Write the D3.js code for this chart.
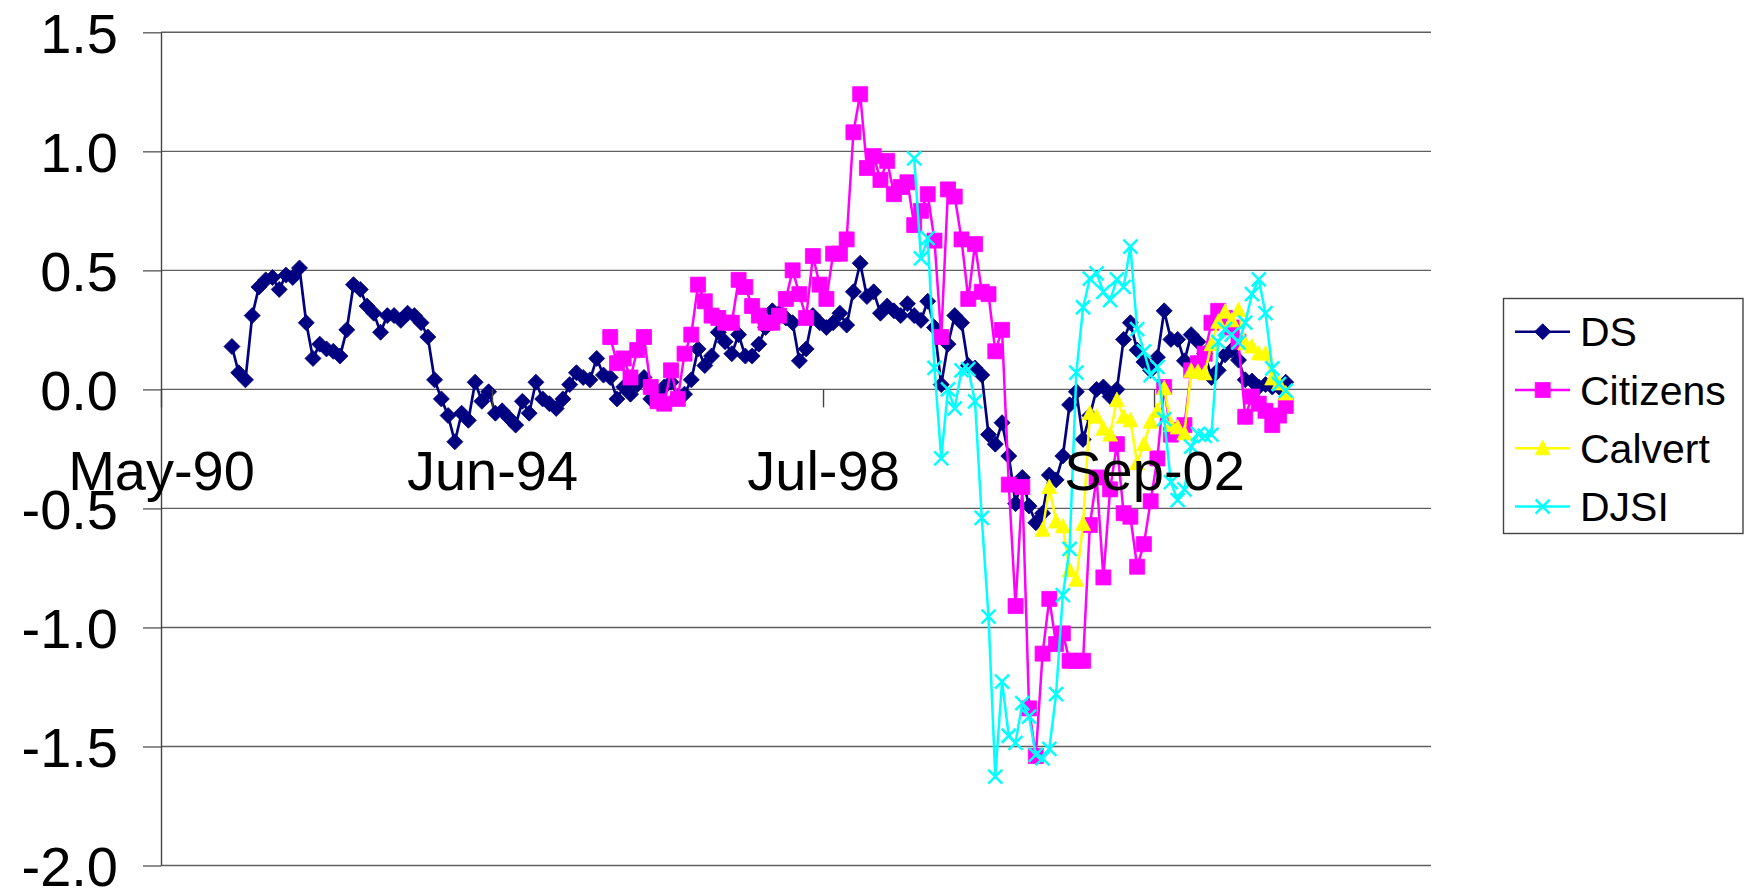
<!DOCTYPE html>
<html>
<head>
<meta charset="utf-8">
<script src="https://cdn.jsdelivr.net/npm/d3@7"></script>
<style>
  html, body { margin: 0; padding: 0; background: #fff; }
  svg { display: block; }
  text { font-family: "Liberation Sans", Arial, sans-serif; fill: #000; }
</style>
</head>
<body>
<svg id="chart" width="1744" height="892"></svg>
<script>
// Monthly categories, first category is May-90
const categoryCount = 188;
const tickIndex = [0, 49, 98, 147];
const tickLabels = ["May-90", "Jun-94", "Jul-98", "Sep-02"];
const yTicks = [-2.0, -1.5, -1.0, -0.5, 0.0, 0.5, 1.0, 1.5];

const seriesNames = ["DS", "Citizens", "Calvert", "DJSI"];
const seriesStart = [10, 66, 130, 111];   // category index of the first value

const dsValues = [
  0.18, 0.07, 0.04, 0.31, 0.43, 0.46, 0.47, 0.42, 0.48, 0.47,
  0.51, 0.28, 0.13, 0.19, 0.17, 0.16, 0.14, 0.25, 0.44, 0.42,
  0.35, 0.32, 0.24, 0.31, 0.31, 0.29, 0.32, 0.31, 0.28, 0.22,
  0.04, -0.04, -0.11, -0.22, -0.10, -0.13, 0.03, -0.05, -0.01, -0.10,
  -0.09, -0.12, -0.15, -0.05, -0.10, 0.03, -0.04, -0.06, -0.08, -0.04,
  0.02, 0.07, 0.05, 0.04, 0.13, 0.06, 0.05, -0.04, 0.01, -0.02,
  0.02, 0.05, -0.04, -0.01, 0.01, 0.03, -0.03, -0.02, 0.04, 0.17,
  0.10, 0.14, 0.24, 0.20, 0.15, 0.23, 0.14, 0.14, 0.19, 0.26,
  0.33, 0.32, 0.30, 0.28, 0.12, 0.17, 0.31, 0.28, 0.26, 0.28,
  0.32, 0.27, 0.41, 0.53, 0.39, 0.41, 0.32, 0.35, 0.33, 0.31,
  0.36, 0.31, 0.29, 0.37, 0.26, 0.02, 0.19, 0.31, 0.28, 0.10,
  0.09, 0.06, -0.19, -0.23, -0.14, -0.28, -0.48, -0.37, -0.49, -0.56,
  -0.52, -0.36, -0.38, -0.28, -0.065, -0.01, -0.21, -0.11, 0.00, 0.01,
  -0.03, 0.00, 0.21, 0.28, 0.165, 0.115, 0.08, 0.135, 0.33, 0.21,
  0.21, 0.12, 0.23, 0.20, 0.15, 0.05, 0.08, 0.145, 0.165, 0.123,
  0.04, 0.035, 0.01, 0.02, 0.01, 0.01, 0.03
];

const citizensValues = [
  0.22, 0.11, 0.13, 0.05,
  0.165, 0.22, 0.01, -0.05, -0.06, 0.08, -0.04, 0.15, 0.23, 0.44,
  0.37, 0.31, 0.30, 0.28, 0.28, 0.46, 0.43, 0.35, 0.31, 0.28,
  0.28, 0.31, 0.38, 0.50, 0.40, 0.30, 0.56, 0.44, 0.38, 0.57,
  0.57, 0.63, 1.08, 1.24, 0.93, 0.98, 0.88, 0.96, 0.82, 0.85,
  0.87, 0.69, 0.75, 0.82, 0.625, 0.22, 0.84, 0.81, 0.63, 0.38,
  0.61, 0.41, 0.40, 0.16, 0.25, -0.40, -0.91, -0.41, -1.34, -1.54,
  -1.11, -0.88, -1.07, -1.025, -1.14, -1.14, -1.14, -0.57, -0.37, -0.79,
  -0.42, -0.23, -0.52, -0.535, -0.745, -0.65, -0.47, -0.29, 0.01, -0.19,
  -0.17, -0.15, 0.08, 0.11, 0.15, 0.28, 0.33, 0.30, 0.26, 0.20,
  -0.115, -0.03, -0.06, -0.09, -0.15, -0.11, -0.07
];

const calvertValues = [
  -0.59, -0.41, -0.555, -0.575, -0.76, -0.80, -0.565, -0.10, -0.115, -0.165,
  -0.19, -0.045, -0.115, -0.13, -0.31, -0.23, -0.136, -0.09, 0.005, -0.15,
  -0.16, -0.185, 0.078, 0.074, 0.067, 0.19, 0.284, 0.326, 0.29, 0.333,
  0.193, 0.18, 0.151, 0.151, 0.046, 0.025, -0.017
];

const djsiValues = [
  0.97, 0.55, 0.635, 0.09, -0.29, 0.00, -0.08, 0.08, 0.085,
  -0.05, -0.54, -0.955, -1.627, -1.228, -1.455, -1.485, -1.318, -1.375, -1.535,
  -1.55, -1.51, -1.28, -0.864, -0.67, 0.07, 0.345, 0.465, 0.487, 0.41,
  0.375, 0.462, 0.431, 0.60, 0.253, 0.16, 0.06, 0.095, -0.125, -0.39,
  -0.465, -0.42, -0.24, -0.187, -0.195, -0.19, 0.20, 0.253, 0.23, 0.197,
  0.28, 0.40, 0.462, 0.32, 0.088, 0.022, -0.005
];

const seriesValues = [dsValues, citizensValues, calvertValues, djsiValues];
const seriesColors = ["#000080", "#FF00FF", "#FFFF00", "#00FFFF"];
const seriesMarkers = ["diamond", "square", "triangle", "cross"];

const svg = d3.select("#chart");
svg.append("rect").attr("width", 1744).attr("height", 892).attr("fill", "#fff");

const x = d3.scaleLinear().domain([0, categoryCount]).range([161, 1431]);
const y = d3.scaleLinear().domain([-2, 1.5]).range([865.5, 32.3]);

// horizontal gridlines
svg.append("g")
  .selectAll("line")
  .data(yTicks)
  .join("line")
  .attr("x1", x(0)).attr("x2", x(categoryCount))
  .attr("y1", d => y(d)).attr("y2", d => y(d))
  .attr("stroke", "#5f5f5f").attr("stroke-width", 1.4);

// value axis
const yAxis = svg.append("g")
  .attr("transform", `translate(${x(0)},0)`)
  .call(d3.axisLeft(y).tickValues(yTicks).tickSize(18).tickSizeOuter(0)
    .tickPadding(25).tickFormat(d => d.toFixed(1)));
yAxis.select(".domain").attr("stroke", "#444").attr("stroke-width", 1.4);
yAxis.selectAll(".tick line").attr("stroke", "#5f5f5f").attr("stroke-width", 1.4);
yAxis.selectAll(".tick text")
  .attr("font-size", 56).attr("dy", "0.358em")
  .style("font-family", '"Liberation Sans", Arial, sans-serif');

// marker shapes
function markerPath(kind) {
  switch (kind) {
    case "diamond": return "M0,-8L8,0L0,8L-8,0Z";
    case "square": return "M-7.5,-7.5H7.5V7.5H-7.5Z";
    case "triangle": return "M0,-8L7.5,6.5L-7.5,6.5Z";
    case "cross": return "M-7,-7L7,7M-7,7L7,-7";
  }
}
function drawMarker(g, kind, color) {
  const p = g.append("path").attr("d", markerPath(kind));
  if (kind === "cross") {
    p.attr("fill", "none").attr("stroke", color).attr("stroke-width", 2.5);
  } else {
    p.attr("fill", color).attr("stroke", color).attr("stroke-width", 0.8);
  }
}

const line = d3.line()
  .x(d => x(d.k + 0.5))
  .y(d => y(d.v));

const plot = svg.append("g");
seriesNames.forEach((name, s) => {
  const pts = seriesValues[s].map((v, i) => ({ k: seriesStart[s] + i, v }));
  const g = plot.append("g").attr("class", "series-" + name);
  g.append("path")
    .datum(pts)
    .attr("d", line)
    .attr("fill", "none")
    .attr("stroke", seriesColors[s])
    .attr("stroke-width", s === 0 ? 2.7 : 2.5)
    .attr("stroke-linejoin", "round");
  pts.forEach(p => {
    const m = g.append("g").attr("transform", `translate(${x(p.k + 0.5)},${y(p.v)})`);
    drawMarker(m, seriesMarkers[s], seriesColors[s]);
  });
});

// category axis sits on the zero line; its labels are drawn over the series
const xAxis = svg.append("g")
  .attr("transform", `translate(0,${y(0)})`)
  .call(d3.axisBottom(x).tickValues(tickIndex).tickSize(18).tickSizeOuter(0)
    .tickPadding(43).tickFormat((d, i) => tickLabels[i]));
xAxis.select(".domain").remove();
xAxis.selectAll(".tick line").attr("stroke", "#444").attr("stroke-width", 1.4);
xAxis.selectAll(".tick text")
  .attr("font-size", 56)
  .style("font-family", '"Liberation Sans", Arial, sans-serif');

// legend
const legend = svg.append("g");
legend.append("rect")
  .attr("x", 1503.5).attr("y", 298.5).attr("width", 239.5).attr("height", 235)
  .attr("fill", "#fff").attr("stroke", "#444").attr("stroke-width", 1.4);
seriesNames.forEach((name, s) => {
  const ry = 331.7 + s * 58.3;
  legend.append("line")
    .attr("x1", 1515).attr("x2", 1570).attr("y1", ry).attr("y2", ry)
    .attr("stroke", seriesColors[s]).attr("stroke-width", 2.5);
  const m = legend.append("g").attr("transform", `translate(1542.7,${ry})`);
  drawMarker(m, seriesMarkers[s], seriesColors[s]);
  legend.append("text")
    .attr("x", 1580).attr("y", ry + 0.358 * 41)
    .attr("font-size", 41)
    .text(name);
});
</script>
</body>
</html>
